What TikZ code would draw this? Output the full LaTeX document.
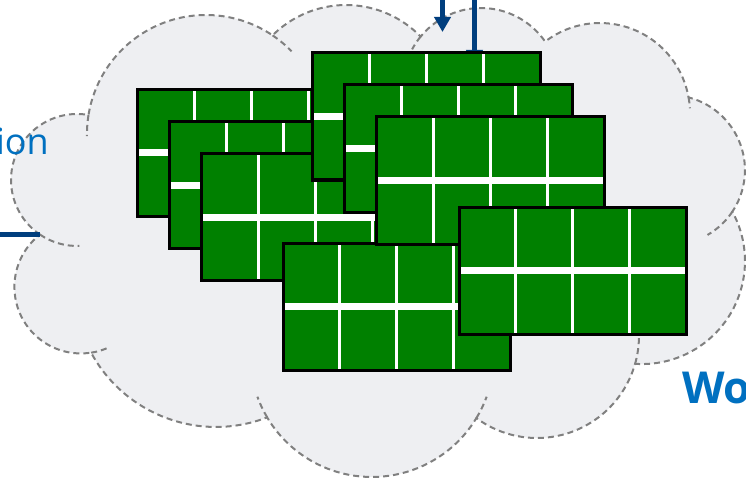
\documentclass[tikz,border=0pt]{standalone}
\usepackage{fontspec}
\setmainfont{Open Sans}
\usetikzlibrary{arrows.meta,calc}

\definecolor{cloudfill}{RGB}{238,239,242}
\definecolor{cloudline}{RGB}{128,128,128}
\definecolor{linkblue}{RGB}{0,62,126}
\definecolor{labelblue}{RGB}{0,112,192}
\definecolor{panelgreen}{RGB}{0,128,0}

\tikzset{
  panel/.style={rectangle, draw=black, line width=3pt, fill=panelgreen,
    minimum width=227.5pt, minimum height=127pt, inner sep=0pt, outer sep=0pt,
    anchor=north west,
    path picture={
      \foreach \f in {0.25,0.5,0.75}
        \draw[white, line width=3pt]
          ($(path picture bounding box.north west)!\f!(path picture bounding box.north east)$) --
          ($(path picture bounding box.south west)!\f!(path picture bounding box.south east)$);
      \draw[white, line width=7pt]
        (path picture bounding box.west) -- (path picture bounding box.east);
    }},
  cloudedge/.style={draw=cloudline, line width=2pt, dash pattern=on 6pt off 4pt},
  link/.style={draw=linkblue, line width=5pt},
  label/.style={inner sep=0pt, text=labelblue},
}

\begin{document}
\begin{tikzpicture}[x=1pt, y=-1pt]
  \clip (0,0) rectangle (746,481);
  \fill[white] (0,0) rectangle (746,481);

  % cloud, bump by bump clockwise from the left
  \path[fill=cloudfill, cloudedge] (40,234.6)
    arc[start angle=-124.12, end angle=-280.03, radius=66pt]
    arc[start angle=-189.2,  end angle=-304.03, radius=119pt]
    arc[start angle=-225.1,  end angle=-315.86, radius=104pt]
    arc[start angle=-219.28, end angle=-325.33, radius=78pt]
    arc[start angle=-232.5,  end angle=-350.01, radius=90pt]
    arc[start angle=-284.37, end angle=-393.69, radius=75pt]
    arc[start angle=-331.35, end angle=-453.84, radius=103pt]
    arc[start angle=-15.82,  end angle=-126.43, radius=102pt]
    arc[start angle=-31.15,  end angle=-149.23, radius=122pt]
    arc[start angle=-68.86,  end angle=-151.52, radius=142pt]
    arc[start angle=-81.18,  end angle=-231.96, radius=66.5pt]
    -- cycle;
  % small inner hooks at the joints
  \foreach \jx/\jy/\a/\b/\r in {40/234.6/-124.12/-88/66, 88.5/115/-189.2/-179/119,
      272.6/35.4/-304.03/-316/119, 420.6/36.6/-219.28/-208/78,
      688.6/97.4/-350.01/-357/90, 732.4/211.6/-33.69/-60/75,
      635.1/363.8/-15.82/0/102, 476.4/418.1/-31.15/-20/122,
      267.2/417.4/-149.23/-160/122, 91.2/352.7/-81.18/-65/66.5}
    \draw[cloudedge] (\jx,\jy) arc[start angle=\a, end angle=\b, radius=\r pt];

  % incoming links
  \coordinate (topA) at (442.5,-5);
  \coordinate (tipA) at (442.5,32);
  \coordinate (topB) at (474.5,-5);
  \coordinate (tipB) at (474.5,65);
  \coordinate (westEnd) at (-5,234.6);
  \coordinate (cloudW) at (40,234.6);
  \draw[link, -{Triangle[width=16pt,length=15pt]}] (topA) -- (tipA);
  \draw[link, -{Triangle[width=16pt,length=15pt]}] (topB) -- (tipB);
  \draw[link] (westEnd) -- (cloudW);

  % panels, back to front
  \foreach \n/\x/\y in {1/137.5/89.5, 2/169.5/121.5, 3/201.5/153.5, 4/283/243,
      5/312.5/53, 6/344.5/85, 7/376.5/117, 8/459/207}
    \node[panel] (p\n) at (\x,\y) {};

  \node[label, anchor=base east, font=\fontsize{36}{42}\selectfont] (appLbl) at (49,155) {ion};
  \node[label, anchor=base west, font=\fontsize{44}{50}\selectfont\bfseries] (wlLbl) at (682,403) {Wo};
\end{tikzpicture}
\end{document}
